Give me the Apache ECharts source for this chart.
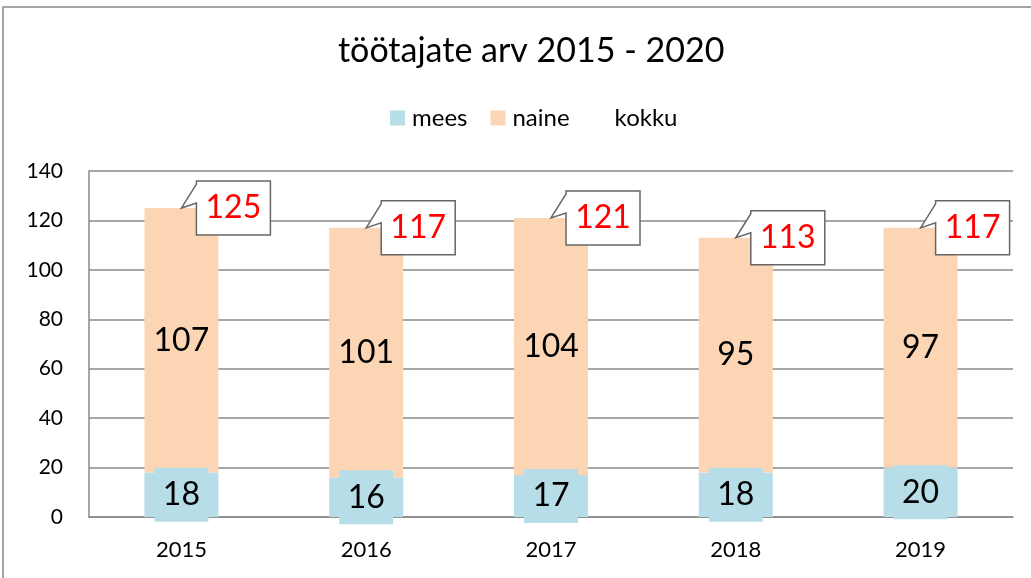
<!DOCTYPE html>
<html>
<head>
<meta charset="utf-8">
<script src="https://cdn.jsdelivr.net/npm/echarts@6/dist/echarts.min.js"></script>
<style>
html,body{margin:0;padding:0;background:#fff;}
#c{width:1031px;height:578px;}
</style>
</head>
<body>
<div id="c"></div>
<script>
const categories = ['2015', '2016', '2017', '2018', '2019'];
const mees = [18, 16, 17, 18, 20];
const naine = [107, 101, 104, 95, 97];
const kokku = [125, 117, 121, 113, 117];
const yTicks = { min: 0, max: 140, interval: 20 };

const FONT = 'Lato, "Open Sans", sans-serif';
const chart = echarts.init(document.getElementById('c'));

function calloutItem(params, api) {
  const idx = api.value(0);
  const val = api.value(1);
  const tip = api.coord([idx, val]);
  const L = tip[0] + 15, T = tip[1] - 27, W = 74, H = 54;
  const R = L + W, B = T + H;
  return {
    type: 'group',
    children: [
      {
        type: 'polygon',
        shape: { points: [[L, T], [R, T], [R, B], [L, B], [L, T + 22], tip, [L, T + 3]] },
        style: { fill: '#ffffff', stroke: '#666666', lineWidth: 1.5 }
      },
      {
        type: 'text',
        style: {
          text: String(val), x: L + W / 2, y: T + H / 2,
          textAlign: 'center', textVerticalAlign: 'middle',
          fill: '#ff0000', font: '32px ' + FONT
        }
      }
    ]
  };
}

chart.setOption({
  animation: false,
  backgroundColor: '#ffffff',
  title: {
    text: 'töötajate arv 2015 - 2020',
    left: 333, top: 29,
    textStyle: { fontFamily: FONT, fontSize: 34, fontWeight: 'normal', color: '#000' }
  },
  legend: {
    top: 101, left: 385,
    itemWidth: 15, itemHeight: 15, itemGap: 23,
    textStyle: { fontFamily: FONT, fontSize: 24, color: '#000', padding: [0, 0, 0, 2] },
    data: [
      { name: 'mees', icon: 'rect' },
      { name: 'naine', icon: 'rect' },
      { name: 'kokku', icon: 'rect', itemStyle: { color: 'rgba(0,0,0,0)', opacity: 0 } }
    ]
  },
  grid: { left: 89, right: 18, top: 171, bottom: 61 },
  xAxis: {
    type: 'category', data: categories,
    axisTick: { show: false },
    axisLine: { lineStyle: { color: '#8a8a8a', width: 1.5 } },
    axisLabel: { fontFamily: FONT, fontSize: 22, color: '#000', margin: 22 }
  },
  yAxis: {
    type: 'value', min: yTicks.min, max: yTicks.max, interval: yTicks.interval,
    axisLine: { show: true, lineStyle: { color: '#8a8a8a', width: 1.5 } },
    axisTick: { show: false },
    splitLine: { lineStyle: { color: '#8a8a8a', width: 1.5 } },
    axisLabel: { fontFamily: FONT, fontSize: 21, color: '#000', margin: 26 }
  },
  graphic: [{
    type: 'rect', shape: { x: 3, y: 7, width: 1200, height: 800 },
    style: { fill: 'none', stroke: '#888888', lineWidth: 1.5 }, silent: true, z: -10
  }],
  series: [
    {
      name: 'mees', type: 'bar', stack: 'a', data: mees, barWidth: 74,
      itemStyle: { color: '#b7dde8' },
      label: {
        show: true, position: 'inside', fontFamily: FONT, fontSize: 32, color: '#000',
        backgroundColor: '#b7dde8', width: 54, height: 54, lineHeight: 54, align: 'center'
      }
    },
    {
      name: 'naine', type: 'bar', stack: 'a', data: naine, barWidth: 74,
      itemStyle: { color: '#fcd5b5' },
      label: { show: true, position: 'inside', fontFamily: FONT, fontSize: 32, color: '#000' }
    },
    {
      name: 'kokku', type: 'custom', z: 10,
      itemStyle: { color: 'rgba(0,0,0,0)' },
      data: kokku.map((v, i) => [i, v]),
      encode: { x: 0, y: 1 },
      renderItem: calloutItem
    }
  ]
});
</script>
</body>
</html>
